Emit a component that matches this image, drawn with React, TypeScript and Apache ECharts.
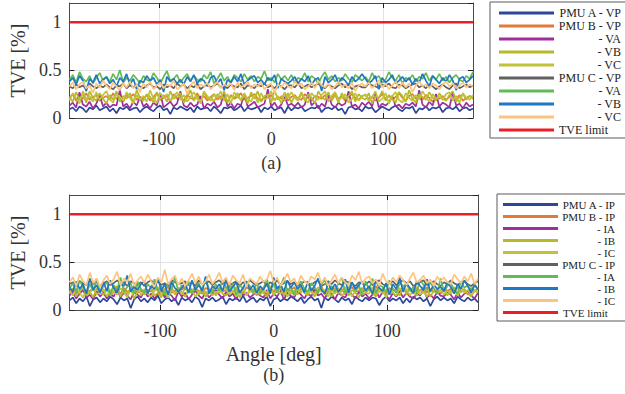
import React, { useEffect, useRef } from "react";
import * as echarts from "echarts";

const ANGLES = [
  -180, -177, -174, -171, -168, -165, -162, -159, -156, -153, -150,
  -147, -144, -141, -138, -135, -132, -129, -126, -123, -120, -117,
  -114, -111, -108, -105, -102, -99, -96, -93, -90, -87, -84,
  -81, -78, -75, -72, -69, -66, -63, -60, -57, -54, -51,
  -48, -45, -42, -39, -36, -33, -30, -27, -24, -21, -18,
  -15, -12, -9, -6, -3, 0, 3, 6, 9, 12, 15,
  18, 21, 24, 27, 30, 33, 36, 39, 42, 45, 48,
  51, 54, 57, 60, 63, 66, 69, 72, 75, 78, 81,
  84, 87, 90, 93, 96, 99, 102, 105, 108, 111, 114,
  117, 120, 123, 126, 129, 132, 135, 138, 141, 144, 147,
  150, 153, 156, 159, 162, 165, 168, 171, 174, 177, 180,
];
const X_TICKS = [-100, 0, 100];
const Y_MAX = 1.2;
const LIMIT = 1;

// ---- (a) voltage TVE [%]
const A_VP = [
  0.09, 0.11, 0.07, 0.12, 0.10, 0.06, 0.11, 0.09, 0.13, 0.08, 0.10,
  0.12, 0.07, 0.10, 0.05, 0.11, 0.09, 0.12, 0.08, 0.10, 0.11, 0.06,
  0.10, 0.12, 0.09, 0.07, 0.11, 0.13, 0.08, 0.10, 0.04, 0.11, 0.09,
  0.12, 0.10, 0.08, 0.11, 0.06, 0.12, 0.09, 0.10, 0.11, 0.07, 0.12,
  0.09, 0.05, 0.11, 0.10, 0.12, 0.08, 0.10, 0.13, 0.07, 0.11, 0.09,
  0.10, 0.12, 0.06, 0.11, 0.09, 0.12, 0.08, 0.10, 0.11, 0.05, 0.12,
  0.08, 0.11, 0.10, 0.12, 0.07, 0.09, 0.11, 0.10, 0.13, 0.06, 0.10,
  0.11, 0.09, 0.12, 0.08, 0.10, 0.04, 0.11, 0.12, 0.09, 0.10, 0.07,
  0.12, 0.10, 0.11, 0.06, 0.09, 0.12, 0.10, 0.08, 0.11, 0.13, 0.09,
  0.07, 0.11, 0.10, 0.12, 0.05, 0.10, 0.09, 0.12, 0.08, 0.11, 0.10,
  0.12, 0.06, 0.10, 0.11, 0.09, 0.12, 0.07, 0.10, 0.11, 0.08, 0.10,
];
const B_VP = [
  0.21, 0.25, 0.18, 0.23, 0.20, 0.26, 0.19, 0.22, 0.24, 0.18, 0.21,
  0.23, 0.19, 0.26, 0.20, 0.22, 0.17, 0.24, 0.21, 0.25, 0.19, 0.22,
  0.20, 0.24, 0.18, 0.22, 0.26, 0.19, 0.21, 0.23, 0.17, 0.25, 0.20,
  0.22, 0.18, 0.24, 0.21, 0.19, 0.26, 0.20, 0.23, 0.18, 0.22, 0.25,
  0.19, 0.23, 0.21, 0.17, 0.24, 0.20, 0.22, 0.26, 0.19, 0.21, 0.23,
  0.25, 0.20, 0.18, 0.23, 0.21, 0.24, 0.19, 0.22, 0.20, 0.26, 0.18,
  0.22, 0.24, 0.20, 0.19, 0.25, 0.21, 0.18, 0.23, 0.22, 0.20, 0.24,
  0.19, 0.21, 0.26, 0.20, 0.23, 0.18, 0.22, 0.25, 0.21, 0.19, 0.23,
  0.24, 0.20, 0.22, 0.18, 0.21, 0.25, 0.20, 0.23, 0.19, 0.22, 0.26,
  0.21, 0.18, 0.23, 0.25, 0.20, 0.22, 0.19, 0.24, 0.21, 0.17, 0.22,
  0.20, 0.23, 0.19, 0.22, 0.26, 0.20, 0.24, 0.18, 0.21, 0.23, 0.20,
];
const B_VA = [
  0.13, 0.16, 0.11, 0.27, 0.14, 0.12, 0.17, 0.10, 0.15, 0.24, 0.12,
  0.16, 0.11, 0.14, 0.13, 0.29, 0.12, 0.15, 0.10, 0.17, 0.13, 0.22,
  0.12, 0.15, 0.10, 0.16, 0.13, 0.26, 0.11, 0.14, 0.17, 0.12, 0.15,
  0.28, 0.13, 0.11, 0.16, 0.12, 0.14, 0.23, 0.10, 0.15, 0.13, 0.17,
  0.11, 0.14, 0.27, 0.12, 0.16, 0.10, 0.15, 0.13, 0.25, 0.12, 0.14,
  0.17, 0.11, 0.13, 0.15, 0.30, 0.12, 0.16, 0.10, 0.14, 0.22, 0.13,
  0.15, 0.12, 0.16, 0.11, 0.14, 0.27, 0.13, 0.17, 0.10, 0.15, 0.12,
  0.24, 0.14, 0.11, 0.16, 0.13, 0.15, 0.28, 0.12, 0.14, 0.10, 0.16,
  0.13, 0.17, 0.12, 0.26, 0.11, 0.15, 0.13, 0.16, 0.23, 0.12, 0.14,
  0.10, 0.15, 0.13, 0.16, 0.12, 0.29, 0.14, 0.11, 0.17, 0.13, 0.25,
  0.12, 0.16, 0.14, 0.11, 0.27, 0.13, 0.15, 0.10, 0.16, 0.12, 0.14,
];
const B_VB = [
  0.22, 0.17, 0.27, 0.19, 0.25, 0.16, 0.28, 0.21, 0.18, 0.26, 0.20,
  0.15, 0.24, 0.19, 0.28, 0.17, 0.23, 0.20, 0.26, 0.16, 0.29, 0.21,
  0.18, 0.25, 0.22, 0.16, 0.27, 0.19, 0.24, 0.17, 0.28, 0.20, 0.23,
  0.26, 0.16, 0.21, 0.29, 0.18, 0.24, 0.15, 0.27, 0.20, 0.22, 0.17,
  0.25, 0.19, 0.28, 0.16, 0.23, 0.21, 0.26, 0.18, 0.24, 0.15, 0.27,
  0.20, 0.28, 0.17, 0.22, 0.25, 0.16, 0.29, 0.19, 0.23, 0.18, 0.26,
  0.16, 0.23, 0.20, 0.27, 0.18, 0.25, 0.21, 0.15, 0.28, 0.22, 0.19,
  0.27, 0.18, 0.24, 0.16, 0.26, 0.20, 0.23, 0.28, 0.17, 0.25, 0.21,
  0.19, 0.26, 0.15, 0.23, 0.21, 0.28, 0.18, 0.24, 0.20, 0.16, 0.27,
  0.23, 0.17, 0.29, 0.20, 0.16, 0.25, 0.22, 0.19, 0.27, 0.21, 0.18,
  0.26, 0.20, 0.18, 0.24, 0.28, 0.17, 0.22, 0.25, 0.19, 0.23, 0.21,
];
const B_VC = [
  0.18, 0.26, 0.21, 0.15, 0.28, 0.20, 0.23, 0.17, 0.27, 0.19, 0.24,
  0.28, 0.20, 0.16, 0.25, 0.22, 0.18, 0.27, 0.21, 0.15, 0.24, 0.19,
  0.23, 0.17, 0.29, 0.20, 0.16, 0.26, 0.21, 0.25, 0.18, 0.22, 0.27,
  0.19, 0.24, 0.17, 0.22, 0.27, 0.20, 0.16, 0.28, 0.23, 0.18, 0.25,
  0.21, 0.28, 0.18, 0.25, 0.15, 0.27, 0.22, 0.19, 0.26, 0.20, 0.17,
  0.24, 0.16, 0.26, 0.19, 0.22, 0.28, 0.18, 0.23, 0.15, 0.27, 0.21,
  0.27, 0.21, 0.18, 0.25, 0.20, 0.16, 0.26, 0.22, 0.19, 0.24, 0.28,
  0.17, 0.23, 0.27, 0.19, 0.21, 0.25, 0.16, 0.20, 0.26, 0.18, 0.22,
  0.25, 0.18, 0.22, 0.28, 0.17, 0.20, 0.26, 0.15, 0.23, 0.27, 0.19,
  0.16, 0.26, 0.21, 0.18, 0.24, 0.19, 0.28, 0.22, 0.17, 0.25, 0.20,
  0.22, 0.19, 0.25, 0.27, 0.18, 0.23, 0.16, 0.26, 0.21, 0.19, 0.24,
];
const C_VP = [
  0.33, 0.31, 0.35, 0.32, 0.34, 0.30, 0.36, 0.33, 0.31, 0.34, 0.32,
  0.35, 0.32, 0.30, 0.34, 0.33, 0.36, 0.31, 0.34, 0.32, 0.35, 0.33,
  0.31, 0.34, 0.36, 0.32, 0.33, 0.30, 0.35, 0.32, 0.34, 0.31, 0.36,
  0.33, 0.35, 0.31, 0.34, 0.32, 0.36, 0.30, 0.33, 0.35, 0.32, 0.34,
  0.36, 0.32, 0.34, 0.31, 0.35, 0.33, 0.32, 0.36, 0.30, 0.34, 0.33,
  0.31, 0.35, 0.33, 0.36, 0.32, 0.34, 0.31, 0.35, 0.33, 0.30, 0.34,
  0.34, 0.32, 0.36, 0.31, 0.33, 0.35, 0.32, 0.34, 0.36, 0.33, 0.31,
  0.35, 0.33, 0.31, 0.34, 0.36, 0.32, 0.35, 0.30, 0.33, 0.34, 0.32,
  0.32, 0.36, 0.34, 0.33, 0.31, 0.35, 0.33, 0.36, 0.32, 0.31, 0.35,
  0.34, 0.31, 0.33, 0.35, 0.36, 0.32, 0.34, 0.31, 0.35, 0.33, 0.30,
  0.33, 0.35, 0.32, 0.30, 0.34, 0.36, 0.31, 0.33, 0.35, 0.32, 0.34,
];
const C_VA = [
  0.40, 0.45, 0.37, 0.48, 0.41, 0.38, 0.44, 0.36, 0.42, 0.47, 0.39,
  0.43, 0.38, 0.46, 0.40, 0.50, 0.37, 0.42, 0.39, 0.45, 0.41, 0.36,
  0.44, 0.40, 0.38, 0.47, 0.42, 0.36, 0.43, 0.49, 0.39, 0.41, 0.45,
  0.37, 0.42, 0.46, 0.39, 0.44, 0.40, 0.38, 0.45, 0.41, 0.48, 0.36,
  0.41, 0.47, 0.39, 0.43, 0.37, 0.45, 0.42, 0.38, 0.46, 0.40, 0.44,
  0.38, 0.43, 0.41, 0.49, 0.39, 0.42, 0.37, 0.46, 0.40, 0.44, 0.39,
  0.45, 0.37, 0.42, 0.40, 0.47, 0.38, 0.44, 0.41, 0.36, 0.43, 0.48,
  0.40, 0.44, 0.38, 0.42, 0.39, 0.46, 0.41, 0.37, 0.45, 0.42, 0.39,
  0.43, 0.38, 0.47, 0.41, 0.44, 0.37, 0.40, 0.48, 0.42, 0.39, 0.45,
  0.36, 0.42, 0.40, 0.45, 0.38, 0.43, 0.41, 0.47, 0.39, 0.44, 0.40,
  0.46, 0.39, 0.43, 0.37, 0.42, 0.45, 0.40, 0.38, 0.44, 0.41, 0.48,
];
const C_VB = [
  0.38, 0.42, 0.35, 0.44, 0.39, 0.28, 0.41, 0.37, 0.45, 0.36, 0.40,
  0.43, 0.36, 0.40, 0.33, 0.42, 0.38, 0.46, 0.35, 0.41, 0.30, 0.39,
  0.37, 0.44, 0.39, 0.42, 0.35, 0.40, 0.27, 0.43, 0.38, 0.41, 0.36,
  0.40, 0.35, 0.43, 0.38, 0.45, 0.36, 0.41, 0.39, 0.33, 0.42, 0.44,
  0.36, 0.41, 0.29, 0.40, 0.37, 0.43, 0.38, 0.46, 0.35, 0.39, 0.42,
  0.44, 0.37, 0.40, 0.35, 0.42, 0.39, 0.45, 0.31, 0.41, 0.38, 0.36,
  0.39, 0.43, 0.36, 0.41, 0.38, 0.44, 0.35, 0.40, 0.42, 0.28, 0.43,
  0.37, 0.40, 0.45, 0.36, 0.42, 0.39, 0.34, 0.43, 0.38, 0.41, 0.46,
  0.41, 0.36, 0.39, 0.44, 0.30, 0.42, 0.37, 0.40, 0.45, 0.36, 0.39,
  0.43, 0.38, 0.42, 0.35, 0.41, 0.37, 0.46, 0.39, 0.33, 0.44, 0.40,
  0.36, 0.42, 0.38, 0.45, 0.39, 0.29, 0.41, 0.43, 0.37, 0.40, 0.44,
];
const C_VC = [
  0.33, 0.37, 0.30, 0.35, 0.38, 0.31, 0.34, 0.26, 0.36, 0.32, 0.39,
  0.34, 0.30, 0.37, 0.33, 0.29, 0.36, 0.32, 0.38, 0.31, 0.35, 0.27,
  0.36, 0.32, 0.38, 0.30, 0.34, 0.37, 0.31, 0.35, 0.33, 0.39, 0.30,
  0.32, 0.36, 0.25, 0.34, 0.38, 0.31, 0.35, 0.33, 0.37, 0.30, 0.34,
  0.38, 0.31, 0.35, 0.33, 0.36, 0.29, 0.37, 0.32, 0.34, 0.38, 0.31,
  0.35, 0.33, 0.37, 0.30, 0.34, 0.36, 0.26, 0.35, 0.32, 0.37, 0.33,
  0.31, 0.38, 0.34, 0.36, 0.30, 0.33, 0.37, 0.31, 0.39, 0.34, 0.32,
  0.36, 0.30, 0.33, 0.38, 0.32, 0.35, 0.31, 0.37, 0.28, 0.34, 0.36,
  0.33, 0.37, 0.31, 0.35, 0.39, 0.32, 0.36, 0.30, 0.34, 0.38, 0.31,
  0.37, 0.32, 0.36, 0.27, 0.34, 0.38, 0.33, 0.35, 0.31, 0.36, 0.34,
  0.30, 0.35, 0.38, 0.33, 0.36, 0.31, 0.34, 0.37, 0.32, 0.35, 0.33,
];

// ---- (b) current TVE [%]
const A_IP = [
  0.10, 0.13, 0.07, 0.12, 0.09, 0.14, 0.04, 0.11, 0.13, 0.08, 0.12,
  0.09, 0.14, 0.11, 0.06, 0.13, 0.10, 0.12, 0.02, 0.11, 0.14, 0.09,
  0.12, 0.08, 0.13, 0.10, 0.15, 0.07, 0.11, 0.13, 0.09, 0.12, 0.05,
  0.13, 0.10, 0.12, 0.08, 0.14, 0.11, 0.03, 0.12, 0.10, 0.13, 0.09,
  0.11, 0.14, 0.06, 0.12, 0.10, 0.13, 0.09, 0.15, 0.08, 0.11, 0.13,
  0.08, 0.12, 0.10, 0.14, 0.04, 0.11, 0.13, 0.09, 0.12, 0.10, 0.14,
  0.12, 0.09, 0.13, 0.07, 0.11, 0.14, 0.10, 0.12, 0.02, 0.13, 0.10,
  0.14, 0.11, 0.08, 0.13, 0.10, 0.12, 0.06, 0.14, 0.11, 0.09, 0.13,
  0.10, 0.13, 0.12, 0.05, 0.11, 0.14, 0.09, 0.12, 0.10, 0.13, 0.07,
  0.12, 0.08, 0.14, 0.11, 0.13, 0.09, 0.12, 0.04, 0.11, 0.14, 0.10,
  0.13, 0.10, 0.12, 0.07, 0.14, 0.11, 0.09, 0.13, 0.10, 0.12, 0.08,
];
const B_IP = [
  0.19, 0.22, 0.17, 0.21, 0.24, 0.18, 0.20, 0.23, 0.16, 0.21, 0.19,
  0.22, 0.18, 0.24, 0.20, 0.17, 0.23, 0.19, 0.21, 0.25, 0.18, 0.20,
  0.17, 0.21, 0.19, 0.23, 0.20, 0.16, 0.22, 0.24, 0.18, 0.20, 0.23,
  0.21, 0.24, 0.18, 0.19, 0.22, 0.20, 0.17, 0.23, 0.21, 0.19, 0.16,
  0.23, 0.19, 0.21, 0.25, 0.18, 0.22, 0.20, 0.17, 0.24, 0.21, 0.19,
  0.18, 0.22, 0.20, 0.16, 0.23, 0.19, 0.24, 0.21, 0.18, 0.22, 0.20,
  0.24, 0.17, 0.22, 0.20, 0.19, 0.23, 0.18, 0.21, 0.25, 0.17, 0.22,
  0.20, 0.23, 0.19, 0.22, 0.16, 0.21, 0.24, 0.19, 0.20, 0.23, 0.18,
  0.22, 0.18, 0.25, 0.19, 0.21, 0.17, 0.23, 0.20, 0.22, 0.18, 0.24,
  0.19, 0.21, 0.17, 0.23, 0.20, 0.24, 0.18, 0.22, 0.19, 0.21, 0.17,
  0.23, 0.20, 0.22, 0.18, 0.24, 0.19, 0.21, 0.16, 0.23, 0.20, 0.22,
];
const B_IA = [
  0.15, 0.19, 0.12, 0.17, 0.21, 0.13, 0.16, 0.11, 0.20, 0.14, 0.18,
  0.12, 0.17, 0.14, 0.22, 0.13, 0.18, 0.15, 0.11, 0.19, 0.16, 0.13,
  0.20, 0.14, 0.17, 0.12, 0.16, 0.21, 0.13, 0.18, 0.15, 0.10, 0.19,
  0.14, 0.18, 0.11, 0.16, 0.20, 0.15, 0.12, 0.19, 0.13, 0.17, 0.21,
  0.16, 0.12, 0.19, 0.14, 0.17, 0.11, 0.20, 0.15, 0.18, 0.13, 0.16,
  0.19, 0.15, 0.13, 0.21, 0.12, 0.17, 0.14, 0.20, 0.11, 0.18, 0.15,
  0.13, 0.20, 0.16, 0.12, 0.18, 0.14, 0.22, 0.15, 0.17, 0.12, 0.19,
  0.17, 0.11, 0.18, 0.15, 0.13, 0.20, 0.16, 0.12, 0.19, 0.14, 0.17,
  0.12, 0.16, 0.21, 0.13, 0.19, 0.15, 0.11, 0.18, 0.14, 0.20, 0.13,
  0.18, 0.14, 0.12, 0.17, 0.15, 0.21, 0.13, 0.16, 0.12, 0.19, 0.15,
  0.14, 0.19, 0.16, 0.11, 0.18, 0.13, 0.17, 0.20, 0.15, 0.12, 0.18,
];
const B_IB = [
  0.17, 0.22, 0.14, 0.20, 0.24, 0.15, 0.19, 0.13, 0.23, 0.18, 0.16,
  0.21, 0.15, 0.19, 0.25, 0.14, 0.20, 0.17, 0.23, 0.12, 0.19, 0.22,
  0.16, 0.20, 0.23, 0.15, 0.18, 0.13, 0.22, 0.17, 0.24, 0.16, 0.20,
  0.19, 0.14, 0.21, 0.17, 0.25, 0.16, 0.20, 0.14, 0.18, 0.22, 0.15,
  0.23, 0.17, 0.15, 0.21, 0.19, 0.24, 0.13, 0.20, 0.16, 0.19, 0.22,
  0.15, 0.21, 0.18, 0.14, 0.22, 0.17, 0.19, 0.25, 0.15, 0.21, 0.17,
  0.20, 0.16, 0.24, 0.18, 0.15, 0.21, 0.14, 0.19, 0.23, 0.16, 0.20,
  0.14, 0.22, 0.17, 0.20, 0.24, 0.15, 0.21, 0.18, 0.13, 0.22, 0.19,
  0.21, 0.18, 0.14, 0.23, 0.17, 0.20, 0.16, 0.22, 0.19, 0.15, 0.24,
  0.16, 0.23, 0.19, 0.15, 0.21, 0.18, 0.24, 0.14, 0.20, 0.17, 0.21,
  0.22, 0.15, 0.20, 0.24, 0.16, 0.19, 0.22, 0.17, 0.14, 0.21, 0.18,
];
const B_IC = [
  0.20, 0.15, 0.23, 0.18, 0.13, 0.21, 0.17, 0.24, 0.16, 0.19, 0.22,
  0.14, 0.21, 0.18, 0.16, 0.23, 0.19, 0.13, 0.22, 0.17, 0.25, 0.15,
  0.22, 0.17, 0.14, 0.20, 0.24, 0.16, 0.19, 0.13, 0.21, 0.18, 0.23,
  0.16, 0.23, 0.19, 0.22, 0.14, 0.18, 0.24, 0.17, 0.20, 0.15, 0.19,
  0.18, 0.21, 0.24, 0.16, 0.20, 0.14, 0.18, 0.23, 0.15, 0.22, 0.17,
  0.23, 0.16, 0.20, 0.18, 0.25, 0.15, 0.21, 0.17, 0.22, 0.14, 0.20,
  0.15, 0.22, 0.18, 0.23, 0.17, 0.20, 0.16, 0.24, 0.19, 0.21, 0.14,
  0.21, 0.17, 0.23, 0.15, 0.19, 0.22, 0.14, 0.20, 0.24, 0.16, 0.18,
  0.17, 0.24, 0.16, 0.20, 0.22, 0.13, 0.21, 0.18, 0.15, 0.23, 0.19,
  0.22, 0.15, 0.21, 0.24, 0.16, 0.19, 0.14, 0.20, 0.23, 0.17, 0.21,
  0.16, 0.20, 0.17, 0.22, 0.15, 0.24, 0.18, 0.21, 0.16, 0.19, 0.23,
];
const C_IP = [
  0.27, 0.29, 0.25, 0.30, 0.28, 0.26, 0.31, 0.27, 0.29, 0.25, 0.28,
  0.30, 0.26, 0.28, 0.31, 0.27, 0.29, 0.25, 0.30, 0.28, 0.26, 0.29,
  0.25, 0.29, 0.31, 0.27, 0.30, 0.26, 0.28, 0.25, 0.31, 0.29, 0.27,
  0.28, 0.30, 0.26, 0.29, 0.25, 0.31, 0.27, 0.28, 0.30, 0.26, 0.29,
  0.31, 0.27, 0.29, 0.26, 0.28, 0.30, 0.25, 0.29, 0.27, 0.31, 0.28,
  0.26, 0.28, 0.30, 0.25, 0.29, 0.27, 0.31, 0.26, 0.28, 0.30, 0.27,
  0.29, 0.25, 0.27, 0.30, 0.28, 0.26, 0.29, 0.31, 0.25, 0.27, 0.30,
  0.27, 0.31, 0.28, 0.26, 0.30, 0.29, 0.27, 0.25, 0.29, 0.28, 0.26,
  0.30, 0.26, 0.29, 0.31, 0.27, 0.25, 0.28, 0.30, 0.26, 0.29, 0.31,
  0.28, 0.30, 0.25, 0.27, 0.29, 0.31, 0.26, 0.28, 0.30, 0.27, 0.25,
  0.29, 0.27, 0.31, 0.28, 0.26, 0.29, 0.30, 0.27, 0.25, 0.28, 0.30,
];
const C_IA = [
  0.22, 0.28, 0.18, 0.31, 0.24, 0.17, 0.27, 0.20, 0.33, 0.19, 0.25,
  0.29, 0.16, 0.26, 0.21, 0.34, 0.19, 0.24, 0.28, 0.17, 0.30, 0.22,
  0.18, 0.27, 0.23, 0.32, 0.20, 0.25, 0.16, 0.29, 0.21, 0.35, 0.19,
  0.26, 0.21, 0.30, 0.17, 0.24, 0.28, 0.19, 0.33, 0.22, 0.18, 0.27,
  0.20, 0.31, 0.24, 0.19, 0.28, 0.16, 0.26, 0.22, 0.30, 0.25, 0.18,
  0.29, 0.17, 0.23, 0.32, 0.21, 0.27, 0.18, 0.25, 0.34, 0.20, 0.24,
  0.16, 0.26, 0.30, 0.22, 0.19, 0.28, 0.24, 0.17, 0.27, 0.31, 0.21,
  0.25, 0.19, 0.28, 0.34, 0.18, 0.23, 0.29, 0.20, 0.26, 0.16, 0.30,
  0.21, 0.33, 0.17, 0.26, 0.24, 0.19, 0.31, 0.22, 0.18, 0.28, 0.25,
  0.27, 0.20, 0.24, 0.18, 0.32, 0.26, 0.21, 0.29, 0.23, 0.17, 0.33,
  0.19, 0.25, 0.28, 0.21, 0.17, 0.30, 0.23, 0.26, 0.20, 0.27, 0.22,
];
const C_IB = [
  0.24, 0.19, 0.30, 0.22, 0.27, 0.17, 0.33, 0.21, 0.26, 0.18, 0.29,
  0.20, 0.31, 0.23, 0.18, 0.28, 0.25, 0.36, 0.19, 0.24, 0.21, 0.27,
  0.30, 0.17, 0.25, 0.22, 0.33, 0.20, 0.27, 0.16, 0.29, 0.23, 0.19,
  0.23, 0.28, 0.18, 0.31, 0.21, 0.26, 0.20, 0.35, 0.17, 0.25, 0.22,
  0.27, 0.20, 0.32, 0.19, 0.24, 0.29, 0.18, 0.23, 0.30, 0.21, 0.26,
  0.18, 0.25, 0.21, 0.28, 0.17, 0.34, 0.22, 0.27, 0.19, 0.31, 0.23,
  0.29, 0.22, 0.26, 0.18, 0.30, 0.20, 0.25, 0.33, 0.21, 0.17, 0.28,
  0.21, 0.27, 0.19, 0.24, 0.32, 0.18, 0.29, 0.22, 0.26, 0.30, 0.20,
  0.25, 0.17, 0.31, 0.23, 0.20, 0.28, 0.16, 0.27, 0.22, 0.34, 0.19,
  0.28, 0.23, 0.18, 0.30, 0.25, 0.21, 0.32, 0.19, 0.27, 0.22, 0.24,
  0.20, 0.29, 0.24, 0.17, 0.27, 0.22, 0.31, 0.25, 0.18, 0.26, 0.21,
];
const C_IC = [
  0.29, 0.34, 0.25, 0.37, 0.30, 0.26, 0.39, 0.28, 0.33, 0.24, 0.31,
  0.36, 0.27, 0.32, 0.40, 0.26, 0.33, 0.29, 0.38, 0.25, 0.31, 0.35,
  0.28, 0.37, 0.30, 0.24, 0.34, 0.29, 0.42, 0.27, 0.32, 0.36, 0.26,
  0.33, 0.25, 0.31, 0.38, 0.28, 0.35, 0.26, 0.30, 0.37, 0.27, 0.32,
  0.39, 0.29, 0.34, 0.26, 0.36, 0.31, 0.28, 0.37, 0.24, 0.33, 0.30,
  0.27, 0.35, 0.29, 0.32, 0.41, 0.28, 0.34, 0.25, 0.31, 0.38, 0.29,
  0.33, 0.26, 0.36, 0.30, 0.27, 0.35, 0.32, 0.39, 0.28, 0.34, 0.25,
  0.31, 0.37, 0.28, 0.34, 0.29, 0.26, 0.36, 0.31, 0.40, 0.27, 0.33,
  0.35, 0.28, 0.32, 0.25, 0.38, 0.30, 0.27, 0.34, 0.29, 0.36, 0.31,
  0.26, 0.33, 0.39, 0.29, 0.31, 0.36, 0.28, 0.32, 0.25, 0.35, 0.30,
  0.34, 0.29, 0.27, 0.37, 0.32, 0.28, 0.35, 0.30, 0.38, 0.27, 0.33,
];

const NAMES_A = [
  "PMU A - VP", "PMU B - VP", "PMU B - VA", "PMU B - VB", "PMU B - VC",
  "PMU C - VP", "PMU C - VA", "PMU C - VB", "PMU C - VC", "TVE limit",
];
const LABELS_A = [
  "PMU A - VP", "PMU B - VP", "- VA", "- VB", "- VC",
  "PMU C - VP", "- VA", "- VB", "- VC", "TVE limit",
];
const NAMES_B = [
  "PMU A - IP", "PMU B - IP", "PMU B - IA", "PMU B - IB", "PMU B - IC",
  "PMU C - IP", "PMU C - IA", "PMU C - IB", "PMU C - IC", "TVE limit",
];
const LABELS_B = [
  "PMU A - IP", "PMU B - IP", "- IA", "- IB", "- IC",
  "PMU C - IP", "- IA", "- IB", "- IC", "TVE limit",
];
const VALUES_A = [A_VP, B_VP, B_VA, B_VB, B_VC, C_VP, C_VA, C_VB, C_VC];
const VALUES_B = [A_IP, B_IP, B_IA, B_IB, B_IC, C_IP, C_IA, C_IB, C_IC];

const COLORS = [
  "#2c4699", "#e07b39", "#9e2f9c", "#b7b92a", "#c1c23a",
  "#616161", "#63bb57", "#1f78c2", "#fdc47e",
];
const RED = "#ee1d25";
const FONT = "Liberation Serif";
const TXT = "#333";

const pair = (vals: number[]) => ANGLES.map((a, i) => [a, vals[i]]);

function xAxes(gridIndex: number, name: string, nameRich: any, nameGap: number) {
  const common = {
    type: "value",
    gridIndex,
    min: -180,
    max: 180,
    axisLine: { show: true, onZero: false, lineStyle: { color: "#4a4a4a", width: 1 } },
    axisTick: { show: true, inside: true, length: 5, customValues: X_TICKS, lineStyle: { color: "#222" } },
  };
  return [
    {
      ...common,
      position: "bottom",
      name,
      nameLocation: "middle",
      nameGap,
      nameTextStyle: { fontFamily: FONT, fontSize: 18, color: TXT, rich: nameRich },
      axisLabel: { show: true, customValues: X_TICKS, margin: 12, fontFamily: FONT, fontSize: 18, color: TXT },
      splitLine: { show: true, lineStyle: { color: "#e2e2e2", width: 1 } },
    },
    {
      ...common,
      position: "top",
      axisLabel: { show: false },
      splitLine: { show: false },
    },
  ];
}

function yAxes(gridIndex: number) {
  const common = {
    type: "value",
    gridIndex,
    min: 0,
    max: Y_MAX,
    interval: 0.5,
    axisLine: { show: true, onZero: false, lineStyle: { color: "#4a4a4a", width: 1 } },
    axisTick: { show: true, inside: true, length: 5, lineStyle: { color: "#222" } },
  };
  return [
    {
      ...common,
      position: "left",
      name: "TVE [%]",
      nameLocation: "middle",
      nameGap: 32,
      nameTextStyle: { fontFamily: FONT, fontSize: 20, color: TXT },
      axisLabel: { show: true, showMaxLabel: false, margin: 8, fontFamily: FONT, fontSize: 18, color: TXT },
      splitLine: { show: true, lineStyle: { color: "#e2e2e2", width: 1 } },
    },
    {
      ...common,
      position: "right",
      axisLabel: { show: false },
      splitLine: { show: false },
    },
  ];
}

function buildSeries(names: string[], values: number[][], axisIndex: number) {
  const s: any[] = values.map((vals, i) => ({
    type: "line",
    name: names[i],
    xAxisIndex: axisIndex,
    yAxisIndex: axisIndex,
    data: pair(vals),
    showSymbol: false,
    symbol: "none",
    color: COLORS[i],
    lineStyle: { width: 1.7, color: COLORS[i] },
  }));
  s.push({
    type: "line",
    name: names[names.length - 1],
    xAxisIndex: axisIndex,
    yAxisIndex: axisIndex,
    data: [[-180, LIMIT], [180, LIMIT]],
    showSymbol: false,
    symbol: "none",
    color: RED,
    lineStyle: { width: 2.5, color: RED },
  });
  return s;
}

function legend(names: string[], labels: string[], left: number, top: number, fontSize: number, textW: number, padding: number[]) {
  return {
    orient: "vertical",
    left,
    top,
    data: names,
    icon: "rect",
    itemWidth: 55,
    itemHeight: 3,
    itemGap: 1,
    padding,
    borderColor: "#5a5a5a",
    borderWidth: 1,
    backgroundColor: "#fff",
    selectedMode: false,
    formatter: (n: string) => {
      const lab = labels[names.indexOf(n)];
      return n === "TVE limit" ? `{l|${lab}}` : `{r|${lab}}`;
    },
    textStyle: {
      rich: {
        r: { width: textW, align: "right", fontFamily: FONT, fontSize, lineHeight: 12, color: "#222" },
        l: { width: textW, align: "left", fontFamily: FONT, fontSize, lineHeight: 12, color: "#222" },
      },
    },
  };
}

export default function App() {
  const ref = useRef<HTMLDivElement>(null);
  useEffect(() => {
    const chart = echarts.init(ref.current!, null, { renderer: "svg" });
    const option: any = {
      animation: false,
      backgroundColor: "#fff",
      grid: [
        { left: 61, top: 3, width: 412, height: 115 },
        { left: 61, top: 195, width: 417, height: 115 },
      ],
      xAxis: [
        ...xAxes(0, "(a)", undefined, 36),
        ...xAxes(1, "{a|Angle [deg]}\n{b|(b)}", {
          a: { fontFamily: FONT, fontSize: 20, lineHeight: 22, color: TXT },
          b: { fontFamily: FONT, fontSize: 18, lineHeight: 20, color: TXT },
        }, 33),
      ],
      yAxis: [...yAxes(0), ...yAxes(1)],
      legend: [
        legend(NAMES_A, LABELS_A, 490, 2, 12, 62, [5, 14, 2, 9]),
        legend(NAMES_B, LABELS_B, 497, 194, 11, 52, [5, 14, 3, 6]),
      ],
      series: [
        ...buildSeries(NAMES_A, VALUES_A, 0),
        ...buildSeries(NAMES_B, VALUES_B, 2),
      ],
    };
    chart.setOption(option);
    return () => chart.dispose();
  }, []);
  return <div ref={ref} style={{ position: "fixed", left: 0, top: 0, width: 625, height: 394 }} />;
}
